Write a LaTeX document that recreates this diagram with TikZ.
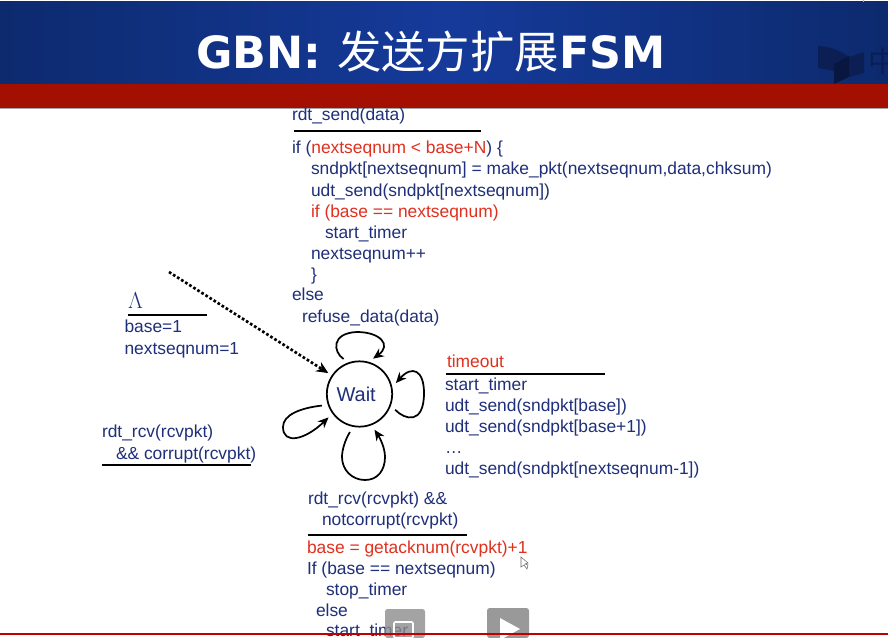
\documentclass[tikz,border=0pt]{standalone}
\usepackage{fontspec}
\setmainfont{Liberation Sans}
\newfontfamily\cjkf{Noto Sans CJK SC}
\newfontfamily\djvf{DejaVu Sans}
\usetikzlibrary{arrows.meta}
\definecolor{navy}{HTML}{1F2F7A}
\definecolor{redt}{HTML}{E0301E}
\definecolor{bannerdark}{HTML}{0D2A6E}
\definecolor{bannermid}{HTML}{153A9A}
\definecolor{redbar}{HTML}{A30F00}
\definecolor{logoa}{HTML}{0C1F55}
\definecolor{logob}{HTML}{081640}
\tikzset{
  x=0.75pt,y=-0.75pt,
  code/.style={anchor=base west,inner sep=0pt,outer sep=0pt,text=navy,font=\fontsize{13.05}{14}\selectfont},
  codered/.style={code,text=redt},
  guard/.style={line width=1.1pt,black},
  guardthick/.style={line width=2.2pt,black},
  loopa/.style={line width=1.3pt,black,shorten <=4.5pt,shorten >=4pt,-{Stealth[length=8pt,width=7pt]}},
}
\begin{document}
\begin{tikzpicture}
\useasboundingbox (0,0) rectangle (888,638);
\fill[white] (0,0) rectangle (888,638);
% banner
\fill[left color=bannerdark,right color=bannermid] (0,2) rectangle (444,84);
\fill[left color=bannermid,right color=bannerdark] (444,2) rectangle (888,84);
\fill[redbar] (0,84) rectangle (888,108);
\fill[black!35] (0,108) rectangle (888,108.7);
% logo
\fill[logoa] (818,46) .. controls (830,47) and (840,50) .. (849,57) -- (849,77) .. controls (842,72) and (830,70) .. (818,68) -- cycle;
\fill[logoa] (849,57) -- (864,52) -- (864,73) -- (849,77) -- cycle;
\fill[logob] (834,64) -- (849,56) -- (849,77) -- (834,84) -- cycle;
\node[anchor=base west,inner sep=0pt,text=logoa,font=\cjkf\fontsize{22}{22}\selectfont] (logo) at (868,73) {中};
\draw[black!30,line width=.5pt] (863,0) -- (863,2);
\node[anchor=base,inner sep=0pt,text=white,font=\fontsize{33.3}{40}\selectfont] (title) at (431,69)
  {\djvf\bfseries GBN: \cjkf\mdseries 发送方扩展\djvf\bfseries FSM};
% top action
\node[code] (a1) at (292,121) {rdt\_send(data)};
\draw[guardthick] (294,131) -- (481,131);
\node[code] (a2) at (292,154) {if (\textcolor{redt}{nextseqnum < base+N}) \{};
\node[code] (a3) at (311,175) {sndpkt[nextseqnum] = make\_pkt(nextseqnum,data,chksum)};
\node[code] (a4) at (311,196) {udt\_send(sndpkt[nextseqnum])};
\node[codered] (a5) at (311,217) {if (base == nextseqnum)};
\node[code] (a6) at (325,238) {start\_timer};
\node[code] (a7) at (311,259) {nextseqnum++};
\node[code] (a8) at (311,280) {\}};
\node[code] (a9) at (292,300) {else};
\node[code] (a10) at (302,322) {refuse\_data(data)};
% init
\node[code,font=\fontsize{18}{18}\selectfont] (lam) at (128,308) {$\Lambda$};
\draw[guard] (128,315) -- (207,315);
\node[code] (b1) at (124.5,332) {base=1};
\node[code] (b2) at (124.5,354) {nextseqnum=1};
% corrupt
\node[code] (c1) at (102,437) {rdt\_rcv(rcvpkt)};
\node[code] (c2) at (116,459) {\&\& corrupt(rcvpkt)};
\draw[guard,line width=1.4pt] (102,465) -- (251,465);
% timeout
\node[codered] (d1) at (447,367) {timeout};
\draw[guard] (446,374) -- (605,374);
\node[code] (d2) at (445,390) {start\_timer};
\node[code] (d3) at (445,411) {udt\_send(sndpkt[base])};
\node[code] (d4) at (445,432) {udt\_send(sndpkt[base+1])};
\node[code] (d5) at (445,453) {…};
\node[code] (d6) at (445,474) {udt\_send(sndpkt[nextseqnum-1])};
% ack
\node[code] (e1) at (308,504) {rdt\_rcv(rcvpkt) \&\&};
\node[code] (e2) at (322,525) {notcorrupt(rcvpkt)};
\draw[guardthick] (308,535) -- (467,535);
\node[codered] (e3) at (307,553) {base = getacknum(rcvpkt)+1};
\node[code] (e4) at (307,574) {If (base == nextseqnum)};
\node[code] (e5) at (326,595) {stop\_timer};
\node[code] (e6) at (316,616) {else};
\node[code] (e7) at (326,636) {start\_timer};
% state
\node[circle,draw=black,line width=1.3pt,minimum size=49pt,inner sep=0pt,text=navy,font=\fontsize{15}{16}\selectfont] (wait) at (359.5,394) {Wait\kern5pt};
% init arrow
\coordinate (start) at (169,272);
\draw[line width=2pt,black,dash pattern=on 2pt off 1.6pt,shorten >=3pt,-{Stealth[length=9pt,width=8pt]}] (start) -- (wait.146);
% self loops
\draw[loopa] (wait.109) .. controls (333,352) and (331,333) .. (357,332) .. controls (380,332) and (392,345) .. (wait.74);
\draw[loopa] (wait.-20) .. controls (405,420) and (424,425) .. (424,393) .. controls (424,370) and (412,365) .. (wait.12);
\draw[loopa] (wait.199) .. controls (300,408) and (283,415) .. (283,427) .. controls (283,445) and (305,440) .. (wait.216);
\draw[loopa] (wait.259) .. controls (345,440) and (342,450) .. (342,457) .. controls (342,470) and (352,480) .. (365,480) .. controls (378,480) and (385,470) .. (385,457) .. controls (385,448) and (380,438) .. (wait.291);
% video overlay
\fill[black!45,fill opacity=.8,rounded corners=2pt] (385,609) rectangle (425,638);
\fill[black!40,rounded corners=2pt] (487,608) rectangle (529,638);
\draw[white,line width=1.2pt,rounded corners=1pt] (394,622) rectangle (413,638);
\fill[white] (500,618) -- (500,640) -- (520,629) -- cycle;
\draw[red!75!black,line width=.8pt] (0,634) -- (888,634);
% cursor
\draw[black!60,fill=white,line width=.4pt] (521,557) -- (521,567) -- (524,565) -- (527,569) -- (528,565) -- (525,564) -- (528,563) -- cycle;
\end{tikzpicture}
\end{document}
